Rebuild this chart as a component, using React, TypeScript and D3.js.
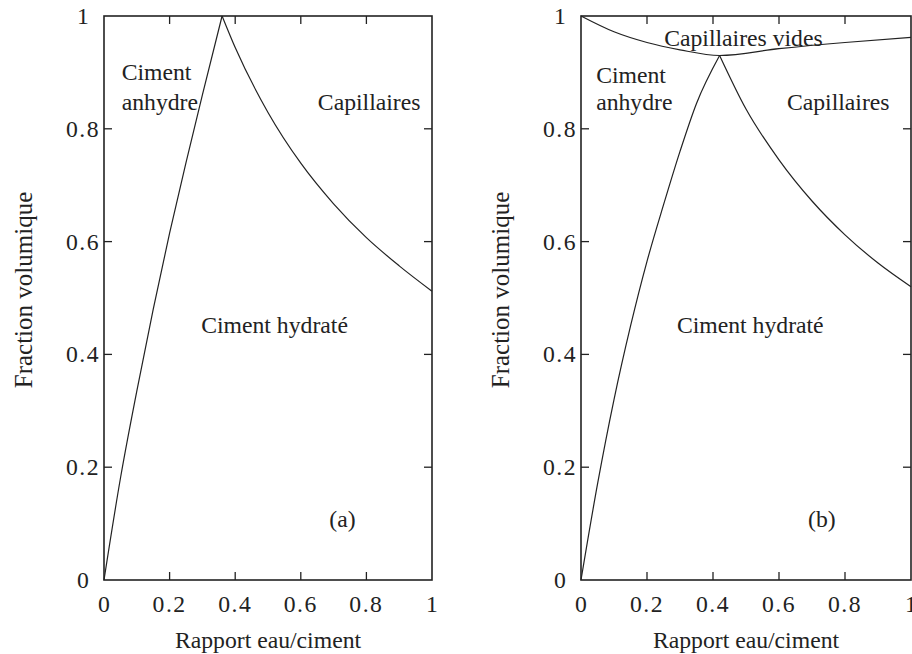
import React, { useRef, useEffect } from "react";
import * as d3 from "d3";

// axis ticks (both panels)
const tickValues = [0, 0.2, 0.4, 0.6, 0.8, 1];
const tickLabels = ["0", "0.2", "0.4", "0.6", "0.8", "1"];

// (a) cure saturee : limite ciment anhydre / hydrate
const wcAnhydreA = [0, 0.05, 0.1, 0.15, 0.2, 0.25, 0.3, 0.36];
const fracAnhydreA = [0, 0.18, 0.335, 0.48, 0.615, 0.74, 0.86, 1];
// (a) limite ciment hydrate / capillaires
const wcCapA = [0.36, 0.4, 0.5, 0.6, 0.7, 0.8, 0.9, 1];
const fracCapA = [1, 0.944, 0.829, 0.739, 0.667, 0.607, 0.557, 0.512];

// (b) cure endogene
const wcAnhydreB = [0, 0.05, 0.1, 0.15, 0.2, 0.25, 0.3, 0.35, 0.42];
const fracAnhydreB = [0, 0.17, 0.32, 0.45, 0.565, 0.665, 0.76, 0.845, 0.93];
const wcCapB = [0.42, 0.5, 0.6, 0.7, 0.8, 0.9, 1];
const fracCapB = [0.93, 0.835, 0.745, 0.672, 0.612, 0.562, 0.52];
const wcVidesB = [0, 0.1, 0.2, 0.3, 0.42, 0.6, 0.8, 1];
const fracVidesB = [1, 0.972, 0.953, 0.94, 0.93, 0.942, 0.953, 0.962];

const ink = "#222";
const font = "'Liberation Serif', 'DejaVu Serif', 'Times New Roman', serif";

const zip = (xs, ys) => xs.map((x, i) => [x, ys[i]]);

const Panel = ({ left, right, curves, labels }) => {
    const ref = useRef(null);
    const top = 16;
    const bottom = 580;

    useEffect(() => {
        const g = d3.select(ref.current);
        g.selectAll("*").remove();

        const x = d3.scaleLinear().domain([0, 1]).range([left, right]);
        const y = d3.scaleLinear().domain([0, 1]).range([bottom, top]);

        const line = d3.line()
            .x(d => x(d[0]))
            .y(d => y(d[1]))
            .curve(d3.curveMonotoneX);

        curves.forEach(c => {
            g.append("path")
                .attr("d", line(c))
                .attr("fill", "none")
                .attr("stroke", ink)
                .attr("stroke-width", 1.2);
        });

        // inward ticks on all four sides
        const inner = tickValues.slice(1, -1);
        const tl = 8;
        inner.forEach(v => {
            g.append("line").attr("x1", x(v)).attr("x2", x(v)).attr("y1", bottom).attr("y2", bottom - tl);
            g.append("line").attr("x1", x(v)).attr("x2", x(v)).attr("y1", top).attr("y2", top + tl);
            g.append("line").attr("y1", y(v)).attr("y2", y(v)).attr("x1", left).attr("x2", left + tl);
            g.append("line").attr("y1", y(v)).attr("y2", y(v)).attr("x1", right).attr("x2", right - tl);
        });
        g.selectAll("line").attr("stroke", ink).attr("stroke-width", 1.3);

        g.append("rect")
            .attr("x", left).attr("y", top)
            .attr("width", right - left).attr("height", bottom - top)
            .attr("fill", "none").attr("stroke", ink).attr("stroke-width", 1.6);

        const text = g.append("g")
            .attr("font-family", font)
            .attr("font-size", 23.7)
            .attr("fill", ink);

        tickValues.forEach((v, i) => {
            text.append("text")
                .attr("x", x(v)).attr("y", 612)
                .attr("text-anchor", "middle")
                .attr("letter-spacing", i === 0 || i === 5 ? 0 : 1.5)
                .text(tickLabels[i]);
            text.append("text")
                .attr("x", left - 21).attr("y", y(v) + 8)
                .attr("text-anchor", "middle")
                .attr("letter-spacing", i === 0 || i === 5 ? 0 : 1.5)
                .text(tickLabels[i]);
        });

        text.append("text")
            .attr("x", (left + right) / 2).attr("y", 648)
            .attr("text-anchor", "middle")
            .text("Rapport eau/ciment");

        text.append("text")
            .attr("transform", `translate(${left - 72},${(top + bottom) / 2 - 8}) rotate(-90)`)
            .attr("text-anchor", "middle")
            .attr("font-size", 25)
            .text("Fraction volumique");

        labels.forEach(l => {
            text.append("text")
                .attr("x", x(l.x)).attr("y", y(l.y))
                .attr("text-anchor", l.anchor || "start")
                .text(l.text);
        });
    }, [left, right]);

    return <g ref={ref} />;
};

export default function App() {
    return (
        <svg
            width={912}
            height={654}
            style={{ position: "absolute", left: 0, top: 0, background: "#fff" }}
        >
            <Panel
                left={104}
                right={432}
                curves={[zip(wcAnhydreA, fracAnhydreA), zip(wcCapA, fracCapA)]}
                labels={[
                    { text: "Ciment", x: 0.054, y: 0.887 },
                    { text: "anhydre", x: 0.054, y: 0.833 },
                    { text: "Capillaires", x: 0.652, y: 0.833 },
                    { text: "Ciment hydraté", x: 0.52, y: 0.438, anchor: "middle" },
                    { text: "(a)", x: 0.727, y: 0.094, anchor: "middle" },
                ]}
            />
            <Panel
                left={581}
                right={911}
                curves={[
                    zip(wcAnhydreB, fracAnhydreB),
                    zip(wcCapB, fracCapB),
                    zip(wcVidesB, fracVidesB),
                ]}
                labels={[
                    { text: "Capillaires vides", x: 0.252, y: 0.947 },
                    { text: "Ciment", x: 0.046, y: 0.881 },
                    { text: "anhydre", x: 0.046, y: 0.833 },
                    { text: "Capillaires", x: 0.624, y: 0.833 },
                    { text: "Ciment hydraté", x: 0.513, y: 0.438, anchor: "middle" },
                    { text: "(b)", x: 0.73, y: 0.094, anchor: "middle" },
                ]}
            />
        </svg>
    );
}
